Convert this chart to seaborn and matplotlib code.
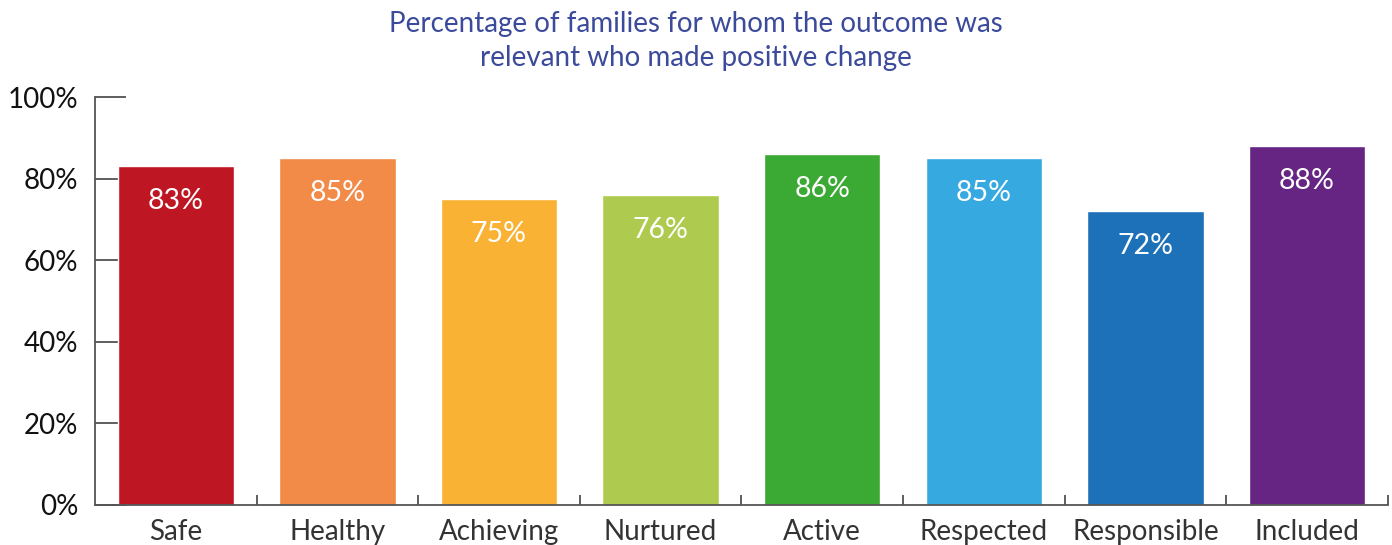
import matplotlib
matplotlib.use("Agg")
import matplotlib.pyplot as plt
import seaborn as sns
import pandas as pd
from matplotlib.ticker import FixedLocator, PercentFormatter

categories = ["Safe", "Healthy", "Achieving", "Nurtured", "Active", "Respected", "Responsible", "Included"]
values = [83, 85, 75, 76, 86, 85, 72, 88]
colors = ["#BE1622", "#F28A48", "#F9B233", "#AFCB4F", "#3AAA35", "#36A9E1", "#1D71B8", "#662483"]
title = "Percentage of families for whom the outcome was\nrelevant who made positive change"

sns.set_style("white")
plt.rcParams['font.family'] = ['Lato', 'DejaVu Sans']

df = pd.DataFrame({"outcome": categories, "pct": values})

fig = plt.figure(figsize=(13.92, 5.45), dpi=100)
ax = fig.add_axes([0.0682, 0.0734, 0.9288, 0.7486])
ax.set_axisbelow(True)

sns.barplot(data=df, x="outcome", y="pct", hue="outcome", palette=colors,
            legend=False, width=0.72, saturation=1, ax=ax, zorder=2)

# value labels inside bars near the top
for i, v in enumerate(values):
    ax.annotate(f"{v}%", (i, v), xytext=(0, -25), textcoords="offset points",
                ha="center", va="center", color="white", fontsize=20.5, zorder=3)

ax.set_xlim(-0.5, len(categories) - 0.5)
ax.set_ylim(0, 100)
ax.yaxis.set_major_locator(FixedLocator([0, 20, 40, 60, 80, 100]))
ax.yaxis.set_major_formatter(PercentFormatter(decimals=0))
ax.set_xlabel("")
ax.set_ylabel("")

for s in ["top", "right"]:
    ax.spines[s].set_visible(False)
for s in ["left", "bottom"]:
    ax.spines[s].set_color("#555555")
    ax.spines[s].set_linewidth(1.3)
    ax.spines[s].set_zorder(4)

ax.tick_params(axis="y", left=True, direction="in", length=22, width=1.1, color="#333333",
               pad=12, labelsize=20, labelcolor="#111111")
ax.tick_params(axis="x", which="major", length=0, pad=10, labelsize=20, labelcolor="#333333")
ax.xaxis.set_minor_locator(FixedLocator([i + 0.5 for i in range(len(categories))]))
ax.tick_params(axis="x", which="minor", bottom=True, direction="in", length=7, width=1.1,
               color="#333333")

fig.text(0.5, 0.925, title, ha="center", va="center", fontsize=20,
         color="#3B4A9A", linespacing=1.35)

fig.savefig("out.png", dpi=100)
